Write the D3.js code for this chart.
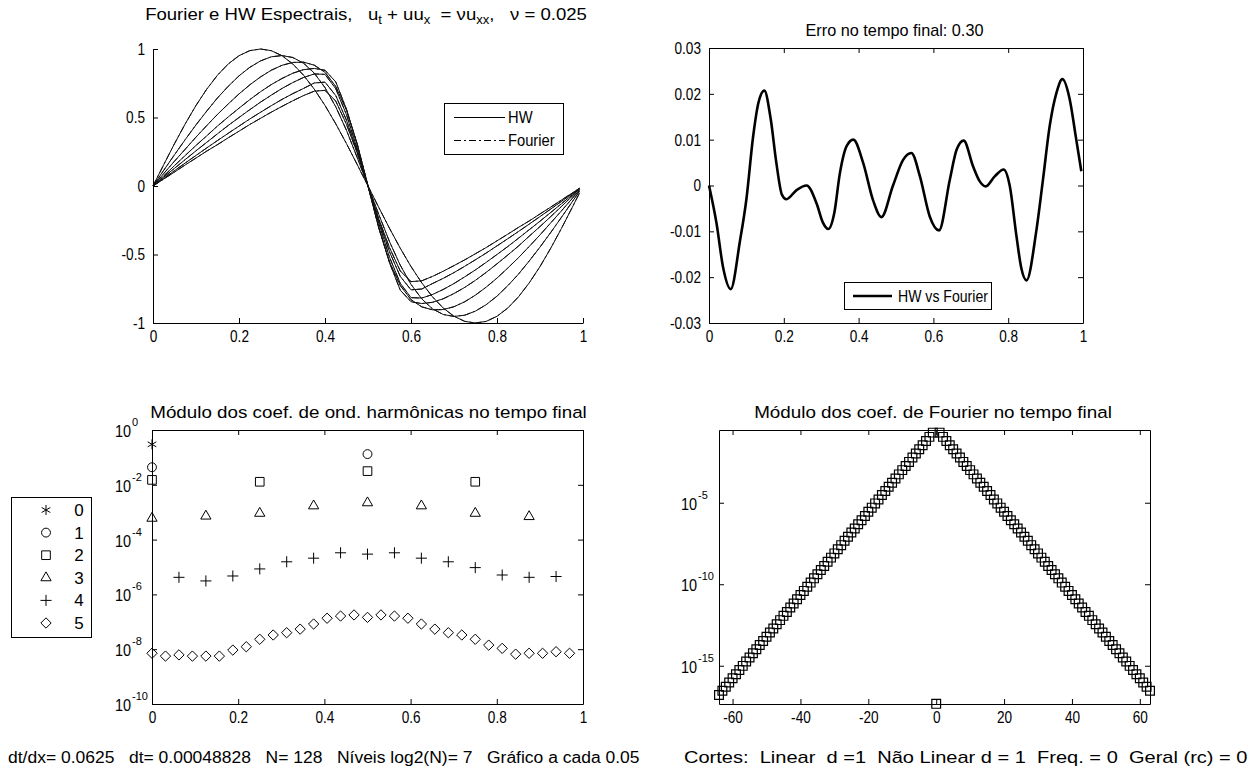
<!DOCTYPE html>
<html>
<head>
<meta charset="utf-8">
<script src="https://cdn.jsdelivr.net/npm/d3@7"></script>
<style>
body { margin: 0; background: #fff; }
svg text { font-family: "Liberation Sans", Arial, sans-serif; fill: #000; }
.tick text { font-size: 17px; }
</style>
</head>
<body>
<svg id="fig" width="1256" height="774"></svg>
<script>
// ---- top left: solution snapshots every 0.05 (HW and Fourier overlap)
var curveX = [0,0.025,0.05,0.075,0.1,0.125,0.15,0.175,0.2,0.225,0.25,0.275,0.3,0.325,0.35,0.375,0.4,0.425,0.45,0.475,0.5,
              0.525,0.55,0.575,0.6,0.625,0.65,0.675,0.7,0.725,0.75,0.775,0.8,0.825,0.85,0.875,0.9,0.925,0.95,0.975,0.9922];
var u000 = [0,0.156,0.309,0.454,0.588,0.707,0.809,0.891,0.951,0.988,1.000,0.988,0.951,0.891,0.809,0.707,0.588,0.454,0.309,0.156,0,
            -0.156,-0.309,-0.454,-0.588,-0.707,-0.809,-0.891,-0.951,-0.988,-1.000,-0.988,-0.951,-0.891,-0.809,-0.707,-0.588,-0.454,-0.309,-0.156,-0.049];
var u005 = [0,0.115,0.228,0.339,0.446,0.547,0.643,0.728,0.804,0.866,0.913,0.943,0.952,0.938,0.897,0.824,0.718,0.578,0.406,0.207,0,
            -0.207,-0.406,-0.578,-0.718,-0.824,-0.897,-0.938,-0.952,-0.943,-0.913,-0.866,-0.804,-0.728,-0.643,-0.547,-0.446,-0.339,-0.228,-0.115,-0.036];
var u010 = [0,0.091,0.181,0.269,0.357,0.441,0.523,0.599,0.672,0.738,0.796,0.845,0.881,0.902,0.904,0.882,0.830,0.726,0.554,0.308,0,
            -0.308,-0.554,-0.726,-0.830,-0.882,-0.904,-0.902,-0.881,-0.845,-0.796,-0.738,-0.672,-0.599,-0.523,-0.441,-0.357,-0.269,-0.181,-0.091,-0.028];
var u015 = [0,0.074,0.149,0.223,0.296,0.366,0.438,0.504,0.568,0.630,0.688,0.740,0.785,0.823,0.849,0.858,0.845,0.760,0.560,0.300,0,
            -0.300,-0.560,-0.760,-0.845,-0.858,-0.849,-0.823,-0.785,-0.740,-0.688,-0.630,-0.568,-0.504,-0.438,-0.366,-0.296,-0.223,-0.149,-0.074,-0.023];
var u020 = [0,0.065,0.129,0.193,0.257,0.319,0.381,0.442,0.500,0.557,0.612,0.663,0.712,0.755,0.792,0.818,0.815,0.710,0.520,0.270,0,
            -0.270,-0.520,-0.710,-0.815,-0.818,-0.792,-0.755,-0.712,-0.663,-0.612,-0.557,-0.500,-0.442,-0.381,-0.319,-0.257,-0.193,-0.129,-0.065,-0.020];
var u025 = [0,0.056,0.112,0.168,0.223,0.278,0.332,0.385,0.437,0.489,0.538,0.586,0.632,0.674,0.712,0.752,0.758,0.660,0.480,0.250,0,
            -0.250,-0.480,-0.660,-0.758,-0.752,-0.712,-0.674,-0.632,-0.586,-0.538,-0.489,-0.437,-0.385,-0.332,-0.278,-0.223,-0.168,-0.112,-0.056,-0.017];
var u030 = [0,0.051,0.102,0.154,0.204,0.255,0.302,0.352,0.400,0.449,0.494,0.539,0.581,0.622,0.660,0.692,0.698,0.620,0.450,0.240,0,
            -0.240,-0.450,-0.620,-0.698,-0.692,-0.660,-0.622,-0.581,-0.539,-0.494,-0.449,-0.400,-0.352,-0.302,-0.255,-0.204,-0.154,-0.102,-0.051,-0.016];
var snapshots = [u000,u005,u010,u015,u020,u025,u030];
var tlXTicks = [0,0.2,0.4,0.6,0.8,1];
var tlYTicks = [-1,-0.5,0,0.5,1];

// ---- top right: error HW vs Fourier at final time
var errX = [0,0.02,0.038,0.058,0.083,0.1,0.118,0.132,0.148,0.165,0.18,0.195,0.207,0.234,0.261,0.288,0.304,0.319,0.335,0.35,
            0.368,0.386,0.412,0.439,0.461,0.492,0.519,0.541,0.564,0.59,0.615,0.644,0.662,0.681,0.706,0.724,0.74,0.764,0.788,
            0.804,0.822,0.835,0.849,0.875,0.893,0.911,0.929,0.945,0.964,0.982,0.9955];
var errY = [0,-0.0082,-0.018,-0.0226,-0.012,-0.003,0.0107,0.018,0.0207,0.0145,0.005,-0.002,-0.003,-0.001,0.0,-0.004,-0.008,-0.0095,-0.006,0.0027,
            0.0086,0.0100,0.005,-0.0033,-0.0069,0.0,0.0056,0.0071,0.002,-0.0067,-0.0098,0.0013,0.0078,0.0098,0.0042,0.0009,-0.0002,0.002,0.0035,
            0.0,-0.011,-0.018,-0.0207,-0.010,0.0013,0.013,0.0202,0.0232,0.019,0.010,0.0031];
var trXTicks = [0,0.2,0.4,0.6,0.8,1];
var trYTicks = [-0.03,-0.02,-0.01,0,0.01,0.02,0.03];

// ---- bottom left: wavelet coefficient modulus per level
var levelNames = ["0","1","2","3","4","5"];
var wavX0 = [0];
var wavV0 = [0.30];
var wavX1 = [0,0.5];
var wavV1 = [0.0437,0.132];
var wavX2 = [0,0.25,0.5,0.75];
var wavV2 = [0.0151,0.0129,0.0316,0.0129];
var wavX3 = [0,0.125,0.25,0.375,0.5,0.625,0.75,0.875];
var wavV3 = [6.0e-4,7.2e-4,9.1e-4,1.7e-3,2.2e-3,1.7e-3,9.1e-4,6.9e-4];
var wavX4 = [0.0625,0.125,0.1875,0.25,0.3125,0.375,0.4375,0.5,0.5625,0.625,0.6875,0.75,0.8125,0.875,0.9375];
var wavV4 = [4.2e-6,3.1e-6,4.7e-6,8.5e-6,1.55e-5,2.1e-5,3.3e-5,2.95e-5,3.3e-5,2.1e-5,1.55e-5,9.5e-6,5.1e-6,4.2e-6,4.5e-6];
var wavX5 = [0,0.03125,0.0625,0.09375,0.125,0.15625,0.1875,0.21875,0.25,0.28125,0.3125,0.34375,0.375,0.40625,0.4375,0.46875,
             0.5,0.53125,0.5625,0.59375,0.625,0.65625,0.6875,0.71875,0.75,0.78125,0.8125,0.84375,0.875,0.90625,0.9375,0.96875];
var wavV5 = [7.1e-9,5.6e-9,6.2e-9,5.6e-9,5.6e-9,5.6e-9,9.3e-9,1.23e-8,2.3e-8,3.3e-8,4.0e-8,5.4e-8,8.3e-8,1.35e-7,1.62e-7,1.78e-7,
             1.45e-7,1.78e-7,1.62e-7,1.35e-7,8.3e-8,5.4e-8,4.0e-8,3.3e-8,2.3e-8,1.41e-8,1.07e-8,6.6e-9,7.1e-9,7.1e-9,8.1e-9,7.1e-9];
var blXTicks = [0,0.2,0.4,0.6,0.8,1];
var blYTicks = [1e-10,1e-8,1e-6,1e-4,1e-2,1];
var blYExp = ["-10","-8","-6","-4","-2","0"];

// ---- bottom right: Fourier coefficient modulus, k = -64..63
var fourierK = d3.range(-64, 64);
var fourierMag = [1.6e-17,2.9e-17,5.1e-17,9.3e-17,1.7e-16,3.0e-16,5.5e-16,9.8e-16,1.8e-15,3.2e-15,5.8e-15,1.02e-14,1.86e-14,3.3e-14,6.0e-14,1.1e-13,
  1.95e-13,3.5e-13,6.3e-13,1.15e-12,2.0e-12,3.7e-12,6.6e-12,1.2e-11,2.2e-11,3.9e-11,7.1e-11,1.26e-10,2.3e-10,4.1e-10,7.4e-10,1.3e-9,
  2.4e-9,4.3e-9,7.8e-9,1.4e-8,2.5e-8,4.6e-8,8.1e-8,1.5e-7,2.6e-7,4.8e-7,8.5e-7,1.55e-6,2.8e-6,5.0e-6,9.1e-6,1.6e-5,
  3.0e-5,5.2e-5,9.5e-5,1.7e-4,3.1e-4,5.5e-4,1.0e-3,1.8e-3,3.2e-3,5.9e-3,1.05e-2,1.9e-2,3.4e-2,6.2e-2,1.1e-1,2.0e-1,
  4.6e-18,
  2.0e-1,1.1e-1,6.2e-2,3.4e-2,1.9e-2,1.05e-2,5.9e-3,3.2e-3,1.8e-3,1.0e-3,5.5e-4,3.1e-4,1.7e-4,9.5e-5,5.2e-5,3.0e-5,
  1.6e-5,9.1e-6,5.0e-6,2.8e-6,1.55e-6,8.5e-7,4.8e-7,2.6e-7,1.5e-7,8.1e-8,4.6e-8,2.5e-8,1.4e-8,7.8e-9,4.3e-9,2.4e-9,
  1.3e-9,7.4e-10,4.1e-10,2.3e-10,1.26e-10,7.1e-11,3.9e-11,2.2e-11,1.2e-11,6.6e-12,3.7e-12,2.0e-12,1.15e-12,6.3e-13,3.5e-13,1.95e-13,
  1.1e-13,6.0e-14,3.3e-14,1.86e-14,1.02e-14,5.8e-15,3.2e-15,1.8e-15,9.8e-16,5.5e-16,3.0e-16,1.7e-16,9.3e-17,5.1e-17,2.9e-17];
var brXTicks = [-60,-40,-20,0,20,40,60];
var brYTicks = [1e-15,1e-10,1e-5];
var brYExp = ["-15","-10","-5"];

var infoLeft = "dt/dx= 0.0625   dt= 0.00048828   N= 128   Níveis log2(N)= 7   Gráfico a cada 0.05";
var infoRight = "Cortes:  Linear  d =1  Não Linear d = 1  Freq. = 0  Geral (rc) = 0";

var svg = d3.select("#fig");
var numFmt = function(d){ return String(+d.toFixed(3)); };

function squeeze(sel, f) {
  sel.each(function(){
    var L = this.getComputedTextLength();
    if (L > 0) { this.setAttribute("textLength", L * f); this.setAttribute("lengthAdjust", "spacingAndGlyphs"); }
  });
}

// squeeze a text (or text with tspans) horizontally to a given width
function fitWidth(t, x, y, width) {
  var w = t.node().getBBox().width;
  t.attr("transform", "translate(" + x + "," + y + ") scale(" + (width / w) + ",1)");
}

function drawAxes(g, x, y, w, h, xt, yt, xf, yf, box) {
  g.append("g").attr("transform", "translate(0," + h + ")")
    .call(d3.axisBottom(x).tickValues(xt).tickSizeInner(-5).tickSizeOuter(0).tickPadding(7).tickFormat(xf));
  g.append("g")
    .call(d3.axisLeft(y).tickValues(yt).tickSizeInner(-5).tickSizeOuter(0).tickPadding(8).tickFormat(yf));
  if (box) {
    g.append("g").call(d3.axisTop(x).tickValues(xt).tickSizeInner(-5).tickSizeOuter(0).tickFormat(""));
    g.append("g").attr("transform", "translate(" + w + ",0)")
      .call(d3.axisRight(y).tickValues(yt).tickSizeInner(-5).tickSizeOuter(0).tickFormat(""));
  }
  g.selectAll(".tick text").call(squeeze, 0.8);
}

// "10" with a raised exponent, as two separate texts so they never overlap
function logLabels(g, y, ticks, exps, lx) {
  ticks.forEach(function(v, i){
    var base = g.append("text").attr("x", lx).attr("y", y(v) + 7).style("font-size", "17px").text("10");
    base.call(squeeze, 0.85);
    var bw = base.node().getComputedTextLength();
    g.append("text").attr("x", lx + bw + 1).attr("y", y(v) - 4).style("font-size", "11px").text(exps[i]);
  });
}

function title(parts, cx, base, width) {
  var t = svg.append("text").attr("text-anchor", "middle").style("font-size", "17px").style("white-space", "pre");
  parts.forEach(function(p){
    var s = t.append("tspan").text(p[0]);
    if (p[1]) s.attr("dy", p[1]);
    if (p[2]) s.style("font-size", p[2]);
  });
  fitWidth(t, cx, base, width);
}

// ============ top left
(function(){
  var w = 430, h = 274;
  var g = svg.append("g").attr("transform", "translate(153,49)");
  var x = d3.scaleLinear().domain([0, 1]).range([0, w]);
  var y = d3.scaleLinear().domain([-1, 1]).range([h, 0]);
  var line = d3.line().x(function(d, i){ return x(curveX[i]); }).y(function(d){ return y(d); });
  snapshots.forEach(function(s){
    g.append("path").attr("d", line(s)).attr("fill", "none").attr("stroke", "#111").attr("stroke-width", 1);
  });
  snapshots.forEach(function(s){
    g.append("path").attr("d", line(s)).attr("fill", "none").attr("stroke", "#111").attr("stroke-width", 1)
      .attr("stroke-dasharray", "7,3,2,3");
  });
  drawAxes(g, x, y, w, h, tlXTicks, tlYTicks, numFmt, numFmt, false);

  var lg = svg.append("g");
  lg.append("rect").attr("x", 444.5).attr("y", 103.5).attr("width", 119).attr("height", 51)
    .attr("fill", "#fff").attr("stroke", "#000");
  lg.append("line").attr("x1", 454).attr("x2", 505).attr("y1", 117.5).attr("y2", 117.5).attr("stroke", "#000");
  lg.append("line").attr("x1", 454).attr("x2", 505).attr("y1", 140.5).attr("y2", 140.5).attr("stroke", "#000")
    .attr("stroke-dasharray", "7,3,2,3");
  lg.append("text").attr("x", 508).attr("y", 123).style("font-size", "16px").text("HW");
  lg.append("text").attr("x", 508).attr("y", 146).style("font-size", "16px").text("Fourier");
  lg.selectAll("text").call(squeeze, 0.92);

  title([["Fourier e HW Espectrais,   u"], ["t", 4, "12px"], [" + uu", -4, "17px"], ["x", 4, "12px"],
         ["  = νu", -4, "17px"], ["xx", 4, "12px"], [",   ν = 0.025", -4, "17px"]], 366, 20, 442);
})();

// ============ top right
(function(){
  var w = 374, h = 275;
  var g = svg.append("g").attr("transform", "translate(709,48)");
  var x = d3.scaleLinear().domain([0, 1]).range([0, w]);
  var y = d3.scaleLinear().domain([-0.03, 0.03]).range([h, 0]);
  var line = d3.line().curve(d3.curveMonotoneX)
    .x(function(d, i){ return x(errX[i]); }).y(function(d){ return y(d); });
  g.append("path").attr("d", line(errY)).attr("fill", "none").attr("stroke", "#000").attr("stroke-width", 2.6);
  drawAxes(g, x, y, w, h, trXTicks, trYTicks, numFmt, numFmt, true);

  svg.append("rect").attr("x", 844.5).attr("y", 282.5).attr("width", 147).attr("height", 27)
    .attr("fill", "#fff").attr("stroke", "#000");
  svg.append("line").attr("x1", 853).attr("x2", 892).attr("y1", 296).attr("y2", 296)
    .attr("stroke", "#000").attr("stroke-width", 2.6);
  svg.append("text").attr("x", 898).attr("y", 302).style("font-size", "16px").text("HW vs Fourier").call(squeeze, 0.88);

  title([["Erro no tempo final: 0.30"]], 894.5, 36, 178);
})();

// ============ bottom left
(function(){
  var w = 431, h = 274;
  var g = svg.append("g").attr("transform", "translate(152,430)");
  var x = d3.scaleLinear().domain([0, 1]).range([0, w]);
  var y = d3.scaleLog().domain([1e-10, 1]).range([h, 0]);
  var shapes = [
    d3.symbol().type(d3.symbolAsterisk).size(70),
    d3.symbol().type(d3.symbolCircle).size(62),
    d3.symbol().type(d3.symbolSquare2).size(95),
    d3.symbol().type(d3.symbolTriangle2).size(75),
    d3.symbol().type(d3.symbolPlus).size(42),
    d3.symbol().type(d3.symbolDiamond2).size(68)
  ];
  var levels = [[wavX0, wavV0], [wavX1, wavV1], [wavX2, wavV2], [wavX3, wavV3], [wavX4, wavV4], [wavX5, wavV5]];
  levels.forEach(function(L, j){
    g.selectAll(null).data(L[1]).enter().append("path")
      .attr("transform", function(d, i){ return "translate(" + x(L[0][i]) + "," + y(d) + ")"; })
      .attr("d", shapes[j]()).attr("fill", "none").attr("stroke", "#000").attr("stroke-width", 1);
  });
  drawAxes(g, x, y, w, h, blXTicks, blYTicks, numFmt, function(){ return ""; }, true);
  logLabels(g, y, blYTicks, blYExp, -37);

  var lg = svg.append("g");
  lg.append("rect").attr("x", 11.5).attr("y", 497.5).attr("width", 80).attr("height", 140)
    .attr("fill", "#fff").attr("stroke", "#000");
  levelNames.forEach(function(n, j){
    var cy = 510 + j * 22.6;
    lg.append("path").attr("transform", "translate(46," + cy + ")").attr("d", shapes[j]())
      .attr("fill", "none").attr("stroke", "#000");
    lg.append("text").attr("x", 79).attr("y", cy + 6).attr("text-anchor", "middle").style("font-size", "17px").text(n);
  });

  title([["Módulo dos coef. de ond. harmônicas no tempo final"]], 368.5, 418, 437);
})();

// ============ bottom right
(function(){
  var w = 431, h = 274;
  var g = svg.append("g").attr("transform", "translate(719,430)");
  var x = d3.scaleLinear().domain([-64, 63]).range([0, w]);
  var y = d3.scaleLog().domain([4.5e-18, 0.29]).range([h, 0]);
  var sq = d3.symbol().type(d3.symbolSquare2).size(98);
  g.selectAll(null).data(fourierMag).enter().append("path")
    .attr("transform", function(d, i){ return "translate(" + x(fourierK[i]) + "," + y(d) + ")"; })
    .attr("d", sq()).attr("fill", "none").attr("stroke", "#000").attr("stroke-width", 1.2);
  drawAxes(g, x, y, w, h, brXTicks, brYTicks, numFmt, function(){ return ""; }, true);
  logLabels(g, y, brYTicks, brYExp, -38);

  title([["Módulo dos coef. de Fourier no tempo final"]], 933, 418, 358);
})();

// ============ footer
var f1 = svg.append("text").style("font-size", "16px").style("white-space", "pre").text(infoLeft);
fitWidth(f1, 8, 763, 632);
var f2 = svg.append("text").style("font-size", "16px").style("white-space", "pre").text(infoRight);
fitWidth(f2, 684, 763, 564);
</script>
</body>
</html>
